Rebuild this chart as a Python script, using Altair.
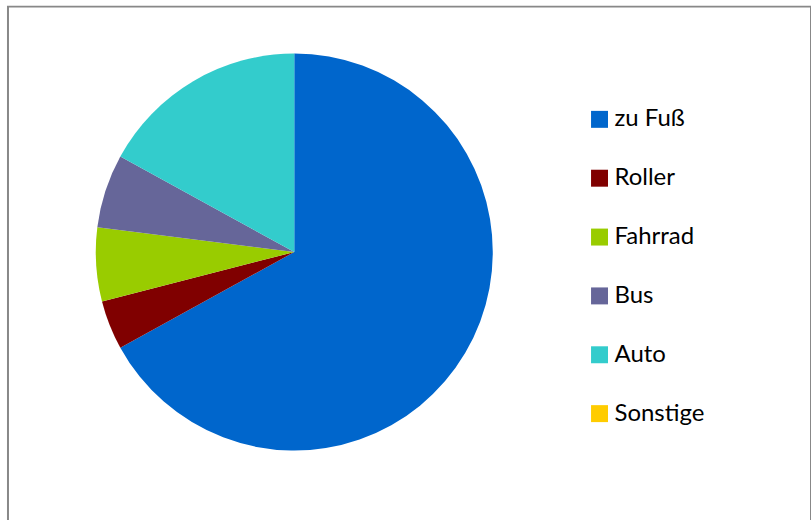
import altair as alt
import pandas as pd

categories = ["zu Fuß", "Roller", "Fahrrad", "Bus", "Auto", "Sonstige"]
values = [67, 4, 6, 6, 17, 0]
colors = ["#0066CC", "#800000", "#99CC00", "#666699", "#33CCCC", "#FFCC00"]

df = pd.DataFrame({"Kategorie": categories, "Wert": values, "idx": list(range(len(categories)))})

chart = (
    alt.Chart(df)
    .mark_arc(outerRadius=199, stroke=None)
    .encode(
        theta=alt.Theta("Wert:Q", stack=True),
        order=alt.Order("idx:Q"),
        color=alt.Color(
            "Kategorie:N",
            scale=alt.Scale(domain=categories, range=colors),
            sort=categories,
            legend=alt.Legend(
                title=None,
                orient="none",
                legendX=581,
                legendY=101,
                symbolType="square",
                symbolSize=289,
                symbolStrokeWidth=0,
                labelFontSize=24,
                labelFont="Lato",
                labelColor="#000000",
                labelOffset=3,
                rowPadding=35,
                labelLimit=300,
            ),
        ),
        x=alt.value(287),
        y=alt.value(246),
    )
    .properties(
        width=805,
        height=516,
        padding={"left": 8, "top": 6, "right": 0, "bottom": 0},
        autosize=alt.AutoSizeParams(type="none"),
    )
    .configure_view(stroke="#888888", strokeWidth=2)
)

chart.save("out.html", embed_options={"renderer": "svg", "actions": False})
